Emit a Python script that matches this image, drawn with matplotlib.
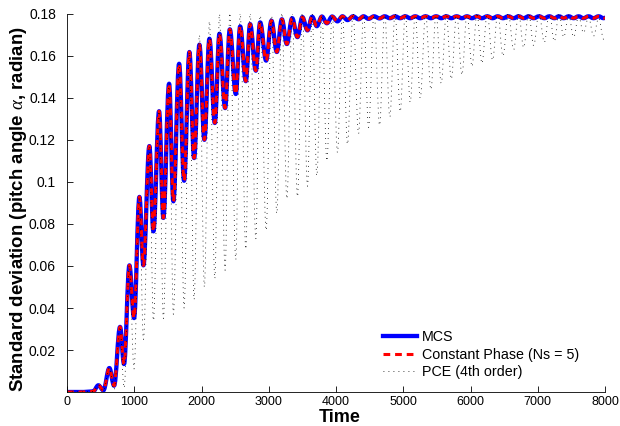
import matplotlib
matplotlib.use('Agg')
import matplotlib.pyplot as plt
from matplotlib.path import Path
from matplotlib.patches import PathPatch
from matplotlib.lines import Line2D

# ---- data ----
start_t = [0, 250, 390]
start_v = [0.0, 0.0, 0.0003]

peak_t = [466, 630, 789, 928, 1077, 1225, 1369, 1518, 1667, 1820,
          1969, 2118, 2267, 2421, 2575, 2723, 2872, 3040, 3195, 3348,
          3500, 3645, 3790, 3943, 4096, 4253, 4410, 4566, 4724, 4878,
          5030, 5178, 5332, 5488, 5640, 5794, 5948, 6096, 6249, 6405,
          6562, 6716, 6865, 7018, 7172, 7316, 7460, 7607, 7755, 7905]
trough_t = [541, 700, 848, 997, 1136, 1285, 1433, 1582, 1741, 1890,
            2043, 2198, 2351, 2510, 2659, 2808, 2961, 3120, 3269, 3427,
            3576, 3715, 3864, 4022, 4171, 4335, 4484, 4648, 4800, 4955,
            5104, 5253, 5411, 5565, 5714, 5873, 6022, 6170, 6328, 6483,
            6641, 6790, 6939, 7098, 7247, 7386, 7534, 7680, 7830, 7980]

mcs_peak = [0.0032, 0.0114, 0.031, 0.0603, 0.0929, 0.1171, 0.1337, 0.1468, 0.1563, 0.1619,
            0.1654, 0.1682, 0.1706, 0.1727, 0.1741, 0.1752, 0.1760, 0.1768, 0.1775, 0.1780,
            0.1785, 0.1787, 0.1788, 0.1788, 0.1789, 0.1789, 0.1789, 0.1789, 0.1789, 0.1789,
            0.1789, 0.1789, 0.1789, 0.1789, 0.1789, 0.1789, 0.1789, 0.1789, 0.1789, 0.1789,
            0.1789, 0.1789, 0.1789, 0.1789, 0.1789, 0.1789, 0.1789, 0.1789, 0.1789, 0.1789]
mcs_trough = [0.0008, 0.003, 0.0133, 0.0352, 0.0603, 0.0765, 0.0829, 0.0908, 0.1006, 0.1114,
              0.1201, 0.1281, 0.1352, 0.1419, 0.1480, 0.1530, 0.1578, 0.1619, 0.1657, 0.1690,
              0.1722, 0.1742, 0.1756, 0.1765, 0.1771, 0.1775, 0.1777, 0.1779, 0.1780, 0.1780,
              0.1780, 0.1780, 0.1780, 0.1780, 0.1780, 0.1780, 0.1780, 0.1780, 0.1780, 0.1780,
              0.1780, 0.1780, 0.1780, 0.1780, 0.1780, 0.1780, 0.1780, 0.1780, 0.1780, 0.1780]
mcs_end = 0.1782

cp_peak = list(mcs_peak)
cp_trough = list(mcs_trough)
cp_end = mcs_end

pce_peak = [0.0032, 0.0114, 0.031, 0.0603, 0.0929, 0.1171, 0.1337, 0.1468, 0.1563, 0.1619,
            0.1700, 0.1765, 0.1800, 0.1805, 0.1805, 0.1805, 0.1805, 0.1805, 0.1805, 0.1805,
            0.1805, 0.1805, 0.1805, 0.1805, 0.1805, 0.1805, 0.1805, 0.1805, 0.1805, 0.1805,
            0.1805, 0.1805, 0.1805, 0.1805, 0.1805, 0.1805, 0.1805, 0.1805, 0.1805, 0.1805,
            0.1805, 0.1805, 0.1805, 0.1805, 0.1805, 0.1805, 0.1795, 0.1790, 0.1785, 0.1780]
pce_trough = [0.0005, 0.001, 0.002, 0.011, 0.025, 0.034, 0.035, 0.037, 0.040, 0.044,
              0.050, 0.054, 0.058, 0.063, 0.068, 0.073, 0.077, 0.085, 0.092, 0.093,
              0.098, 0.103, 0.110, 0.114, 0.118, 0.123, 0.126, 0.127, 0.131, 0.1335,
              0.138, 0.140, 0.144, 0.147, 0.149, 0.151, 0.155, 0.1565, 0.158, 0.160,
              0.163, 0.164, 0.165, 0.1665, 0.167, 0.169, 0.169, 0.171, 0.1695, 0.168]
pce_end = 0.169

x_ticks = [0, 1000, 2000, 3000, 4000, 5000, 6000, 7000, 8000]
y_ticks = [0.02, 0.04, 0.06, 0.08, 0.1, 0.12, 0.14, 0.16, 0.18]
y_tick_labels = ['0.02', '0.04', '0.06', '0.08', '0.1', '0.12', '0.14', '0.16', '0.18']
labels = ['MCS', 'Constant Phase (Ns = 5)', 'PCE (4th order)']


def build(peaks, troughs, end_v):
    t = list(start_t)
    v = list(start_v)
    for tp, vp, tt, vt in zip(peak_t, peaks, trough_t, troughs):
        t += [tp, tt]
        v += [vp, vt]
    t.append(8000)
    v.append(end_v)
    return t, v


def smooth_path(t, v, k=0.3642):
    # cubic Bezier segments with flat tangents at each extremum
    verts = [(t[0], v[0])]
    codes = [Path.MOVETO]
    for i in range(len(t) - 1):
        dt = t[i + 1] - t[i]
        verts += [(t[i] + k * dt, v[i]), (t[i + 1] - k * dt, v[i + 1]), (t[i + 1], v[i + 1])]
        codes += [Path.CURVE4] * 3
    return Path(verts, codes)


plt.rcParams['font.family'] = ['Liberation Sans', 'DejaVu Sans']
plt.rcParams['mathtext.fontset'] = 'custom'
plt.rcParams['mathtext.it'] = 'Liberation Serif:italic'

fig = plt.figure(figsize=(6.2, 4.26), dpi=100)
ax = fig.add_axes([67 / 620, 1 - 392 / 426, (605 - 67) / 620, (392 - 14) / 426])

styles = [
    dict(edgecolor='#0000ff', lw=3.1, linestyle='-', joinstyle='round', capstyle='round'),
    dict(edgecolor='#ff0000', lw=2.2, linestyle=(0, (2.2, 1.6)), joinstyle='round', capstyle='butt'),
    dict(edgecolor='black', lw=0.6, linestyle=(0, (1, 5)), joinstyle='round', capstyle='butt'),
]
series = [build(mcs_peak, mcs_trough, mcs_end),
          build(cp_peak, cp_trough, cp_end),
          build(pce_peak, pce_trough, pce_end)]
for (t, v), st in zip(series, styles):
    ax.add_patch(PathPatch(smooth_path(t, v), fill=False, **st))

ax.set_xlim(0, 8000)
ax.set_ylim(0, 0.18)
ax.set_xticks(x_ticks)
ax.set_xticklabels([str(x) for x in x_ticks])
ax.set_yticks(y_ticks)
ax.set_yticklabels(y_tick_labels)
ax.tick_params(direction='in', length=4, width=0.6)
ax.tick_params(axis='x', labelsize=9, pad=3)
ax.tick_params(axis='y', labelsize=10, pad=8)
for s in ['top', 'right']:
    ax.spines[s].set_visible(False)
for s in ['left', 'bottom']:
    ax.spines[s].set_linewidth(0.6)

ax.set_xlabel('Time', fontsize=13, fontweight='bold')
ax.xaxis.set_label_coords(0.507, -0.045)
ax.set_ylabel(r'Standard deviation (pitch angle $\alpha$, radian)', fontsize=13.4,
              fontweight='bold')
ax.yaxis.set_label_coords(-0.071, 0.484)

handles = [Line2D([], [], color='#0000ff', lw=3.1),
           Line2D([], [], color='#ff0000', lw=2.2, linestyle=(0, (2.2, 1.6))),
           Line2D([], [], color='black', lw=0.6, linestyle=(0, (1, 5)))]
ax.legend(handles, labels, loc='upper left', bbox_to_anchor=(383 / 620, 1 - 330 / 426),
          bbox_transform=fig.transFigure, frameon=False, fontsize=10.3,
          handlelength=2.4, handletextpad=0.35, labelspacing=0.25,
          borderpad=0, borderaxespad=0)

fig.savefig('out.png', dpi=100)
